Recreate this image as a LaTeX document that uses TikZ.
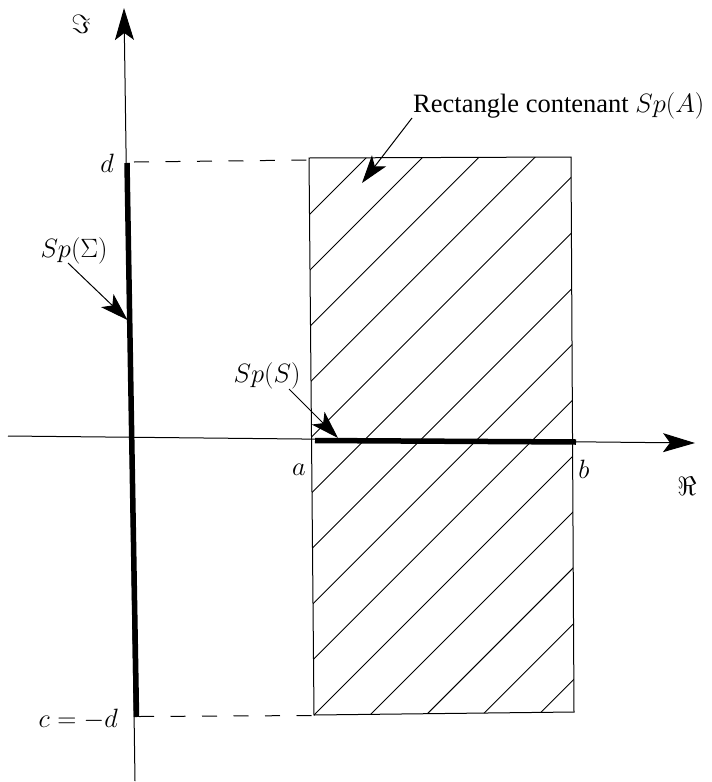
\documentclass[tikz,border=0pt]{standalone}
\usepackage{fix-cm}
\usepackage[no-math]{fontspec}
\setmainfont{Liberation Serif}
\usetikzlibrary{arrows.meta}
\tikzset{
  lbl/.style={inner sep=0pt, font=\fontsize{26.5}{30}\selectfont},
  axis/.style={line width=1pt, -{Stealth[length=32pt, width=19pt, inset=7pt]}},
  thickseg/.style={line width=5.5pt},
  guide/.style={line width=1pt, dash pattern=on 15pt off 16.5pt},
  pointer/.style={line width=1pt, -{Stealth[length=28pt, width=18pt, inset=7pt]}},
  hatch/.style={line width=0.9pt},
  rect/.style={line width=1pt}
}
\begin{document}
\begin{tikzpicture}[x=1pt,y=-1pt]
\useasboundingbox (0,0) rectangle (712,782);
% rectangle corners
\coordinate (TL) at (309,158);
\coordinate (TR) at (571,157);
\coordinate (BR) at (574,712);
\coordinate (BL) at (314,715);
% hatching
\begin{scope}
  \clip (TL) -- (TR) -- (BR) -- (BL) -- cycle;
  \foreach \k in {0,...,13} {
    \pgfmathsetmacro{\cc}{524+56.1*\k}
    \draw[hatch] (\cc-100,100) -- (\cc-800,800);
  }
\end{scope}
\draw[rect] (TL) -- (TR) -- (BR) -- (BL) -- cycle;
% axes
\coordinate (imbot) at (135,781);
\coordinate (imtop) at (124,8);
\coordinate (relft) at (8,436);
\coordinate (retip) at (695,443);
\draw[axis] (imbot) -- (imtop);
\draw[axis] (relft) -- (retip);
% thick segments
\coordinate (sigtop) at (127,163);
\coordinate (sigbot) at (136.5,717);
\coordinate (sa) at (315,440.5);
\coordinate (sb) at (576,442);
\draw[thickseg] (sigtop) -- (sigbot);
\draw[thickseg] (sa) -- (sb);
% dashed guides
\coordinate (dl) at (134,162);
\coordinate (dr) at (309,160);
\coordinate (cl) at (139,716.5);
\coordinate (cr) at (314,715.5);
\draw[guide] (dl) -- (dr);
\draw[guide] (cl) -- (cr);
% labels
\node[lbl] (Im) at (81,24) {$\Im$};
\node[lbl] (Re) at (687,486) {$\Re$};
\node[lbl, anchor=east] (dlab) at (114,163) {$d$};
\node[lbl, anchor=east] (clab) at (118,719) {$c=-d$};
\node[lbl] (alab) at (299,470) {$a$};
\node[lbl] (blab) at (584,469) {$b$};
\node[lbl] (Sig) at (74,251) {$Sp(\Sigma)$};
\node[lbl] (SpS) at (267,376) {$Sp(S)$};
\node[lbl, anchor=base west] (RectLab) at (413,112) {Rectangle contenant $Sp(A)$};
% pointers
\coordinate (p1s) at (68,263);
\coordinate (p1e) at (127.5,320);
\coordinate (p2s) at (289,389);
\coordinate (p2e) at (338,438);
\coordinate (p3s) at (412,118);
\coordinate (p3e) at (362,183);
\draw[pointer] (p1s) -- (p1e);
\draw[pointer] (p2s) -- (p2e);
\draw[pointer] (p3s) -- (p3e);
\end{tikzpicture}
\end{document}
